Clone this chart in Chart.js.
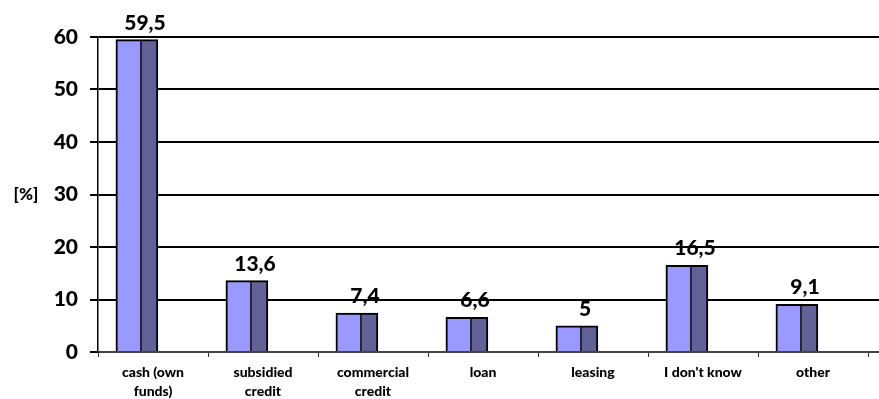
<!DOCTYPE html>
<html>
<head>
<meta charset="utf-8">
<script src="https://cdn.jsdelivr.net/npm/chart.js@4/dist/chart.umd.min.js"></script>
<style>
  html, body { margin: 0; padding: 0; background: #ffffff; }
  #wrap { width: 879px; height: 399px; }
</style>
</head>
<body>
<div id="wrap"><canvas id="c" width="879" height="399"></canvas></div>
<script>
const categories = [["cash (own", "funds)"], ["subsidied", "credit"], ["commercial", "credit"], "loan", "leasing", "I don't know", "other"];
const values = [59.5, 13.6, 7.4, 6.6, 5, 16.5, 9.1];
const valueLabels = ["59,5", "13,6", "7,4", "6,6", "5", "16,5", "9,1"];
const yTickValues = [0, 10, 20, 30, 40, 50, 60];
const yAxisTitle = "[%]";

const FONT = "Lato";
const points = values.map((v, i) => ({ x: i, y: v }));

const labelPlugin = {
  id: 'labels',
  afterDatasetsDraw(chart) {
    const ctx = chart.ctx;
    const xs = chart.scales.x, ys = chart.scales.y;
    ctx.save();
    ctx.fillStyle = '#000';
    ctx.font = '900 21px ' + FONT;
    ctx.textAlign = 'center';
    ctx.textBaseline = 'alphabetic';
    values.forEach((v, i) => {
      ctx.fillText(valueLabels[i], xs.getPixelForValue(i) - 8, ys.getPixelForValue(v) - 10);
    });
    ctx.font = '900 17px ' + FONT;
    ctx.textBaseline = 'middle';
    ctx.fillText(yAxisTitle, 26, ys.getPixelForValue(30));
    ctx.restore();
  }
};

new Chart(document.getElementById('c'), {
  type: 'bar',
  data: {
    datasets: [
      {
        data: points,
        xAxisID: 'xb',
        backgroundColor: '#9999FF',
        borderColor: '#000',
        borderWidth: { top: 2, left: 2, right: 1, bottom: 0 },
        borderSkipped: 'start',
        barThickness: 25
      },
      {
        data: points,
        xAxisID: 'xb',
        backgroundColor: '#626299',
        borderColor: '#000',
        borderWidth: { top: 2, left: 1, right: 2, bottom: 0 },
        borderSkipped: 'start',
        barThickness: 17
      }
    ]
  },
  options: {
    responsive: false,
    animation: false,
    devicePixelRatio: 1,
    layout: { padding: { top: 37, right: 0, left: 0, bottom: 0 } },
    plugins: { legend: { display: false }, tooltip: { enabled: false } },
    scales: {
      x: {
        type: 'linear',
        position: 'bottom',
        min: -0.5,
        max: 6.6,
        offset: false,
        afterBuildTicks(scale) { scale.ticks = categories.map((_, i) => ({ value: i })); },
        afterFit(scale) { scale.height = 47; },
        ticks: {
          autoSkip: false,
          maxRotation: 0,
          color: '#000',
          padding: 6,
          font: { family: FONT, weight: '900', size: 14, lineHeight: 1.35 },
          callback: (v) => categories[v]
        },
        grid: {
          offset: true,
          drawOnChartArea: false,
          drawTicks: true,
          tickLength: 5,
          color: '#333',
          lineWidth: 1
        },
        border: { display: true, color: '#444', width: 2 }
      },
      xb: {
        type: 'linear',
        display: false,
        min: -0.5 + 0.11,
        max: 6.6 + 0.11,
        offset: false
      },
      y: {
        min: 0,
        max: 60,
        afterBuildTicks(scale) { scale.ticks = yTickValues.map(v => ({ value: v })); },
        afterFit(scale) { scale.width = 98; },
        ticks: {
          color: '#000',
          padding: 12,
          font: { family: FONT, weight: '900', size: 21 }
        },
        grid: {
          color: '#000',
          lineWidth: 2,
          drawTicks: true,
          tickLength: 8
        },
        border: { display: true, color: '#000', width: 1.5 }
      }
    }
  },
  plugins: [labelPlugin]
});
</script>
</body>
</html>
